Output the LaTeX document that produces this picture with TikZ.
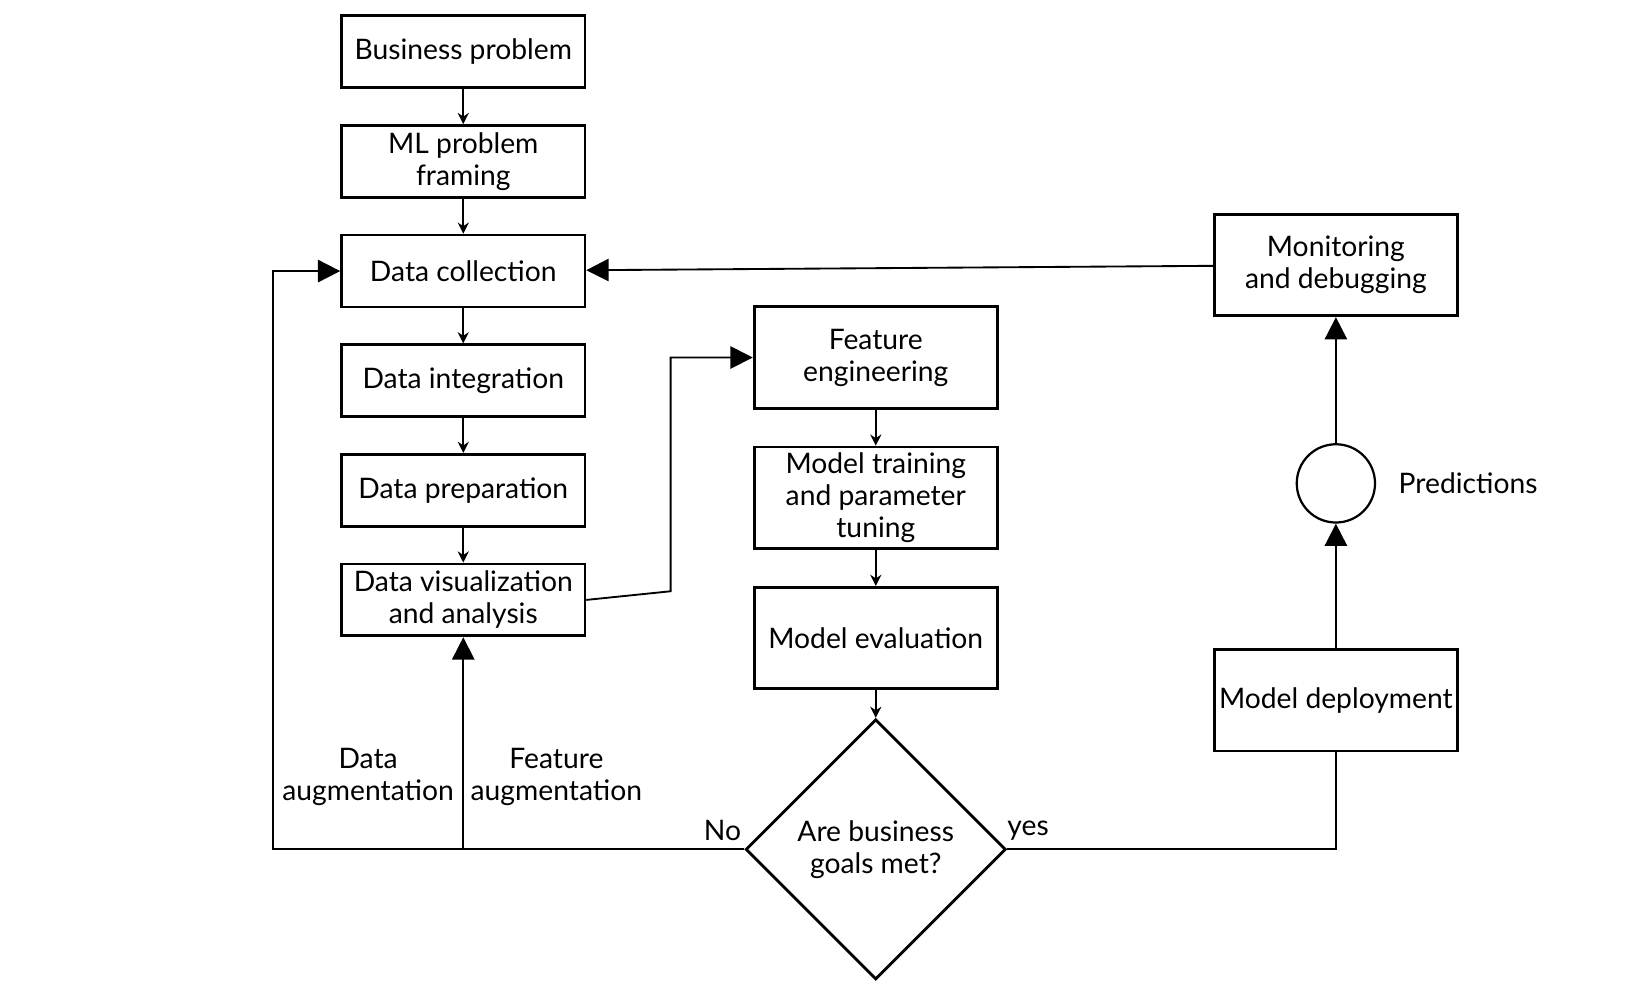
\documentclass[tikz,border=0pt]{standalone}
\usepackage{fontspec}
\setmainfont{Lato}
\usetikzlibrary{arrows.meta, positioning, shapes.geometric}

\tikzset{
  box/.style={draw, line width=0.75pt, minimum width=2.3cm, minimum height=0.68cm, align=center, inner sep=1pt},
  bigbox/.style={box, minimum height=0.96cm},
  small/.style={-{Stealth[length=3pt, width=3pt]}, line width=0.5pt},
  big/.style={-{Triangle[length=6pt, width=6pt]}, line width=0.5pt},
  lbl/.style={align=center},
}

\begin{document}
\begin{tikzpicture}[font=\fontsize{7.6}{8.6}\selectfont]
  \useasboundingbox (0,0) rectangle (15.6,-9.32);

  \node[box] (business) at (4.38,-0.49) {Business problem};
  \node[box] (framing) [below=0.33cm of business] {ML problem\\framing};
  \node[box] (collection) [below=0.33cm of framing] {Data collection};
  \node[box] (integration) [below=0.33cm of collection] {Data integration};
  \node[box] (preparation) [below=0.33cm of integration] {Data preparation};
  \node[box] (visual) [below=0.33cm of preparation] {Data visualization\\and analysis};

  \node[bigbox] (feature) at (8.28,-3.38) {Feature\\engineering};
  \node[bigbox] (training) [below=0.34cm of feature] {Model training\\and parameter\\tuning};
  \node[bigbox] (evaluation) [below=0.34cm of training] {Model evaluation};
  \node[diamond, draw, line width=0.75pt, minimum width=2.46cm, minimum height=2.46cm, inner sep=0pt, align=center] (goals) at (8.28,-8.03) {Are business\\goals met?};

  \node[bigbox] (deployment) at (12.63,-6.62) {Model deployment};
  \node[circle, draw, line width=0.6pt, minimum size=0.74cm] (predict) at (12.63,-4.57) {};
  \node[anchor=west] (predlabel) at (13.1,-4.57) {Predictions};
  \node[bigbox] (monitor) at (12.63,-2.505) {Monitoring\\and debugging};

  \coordinate (leftcorner) at (2.58,-8.03);
  \coordinate (featcorner) at (4.38,-8.03);
  \coordinate (visjog) at (6.34,-5.59);

  % stacked flow
  \draw[small] (business) -- (framing);
  \draw[small] (framing) -- (collection);
  \draw[small] (collection) -- (integration);
  \draw[small] (integration) -- (preparation);
  \draw[small] (preparation) -- (visual);
  \draw[small] (feature) -- (training);
  \draw[small] (training) -- (evaluation);
  \draw[small] (evaluation) -- (goals);

  \draw[big] (visual.east) -- (visjog) |- (feature.west);
  \draw[big] (monitor) -- (collection);
  \draw[big] (deployment) -- (predict);
  \draw[big] (predict) -- (monitor);
  \draw[line width=0.5pt] (goals.east) -| (deployment.south);
  \draw[big] (goals.west) -- (leftcorner) |- (collection.west);
  \draw[big] (featcorner) -- (visual.south);

  \node[lbl] (dataaug) at (3.48,-7.35) {Data\\augmentation};
  \node[lbl] (feataug) at (5.26,-7.35) {Feature\\augmentation};
  \node (no) at (6.83,-7.85) {No};
  \node (yes) at (9.72,-7.85) {yes};
\end{tikzpicture}
\end{document}
